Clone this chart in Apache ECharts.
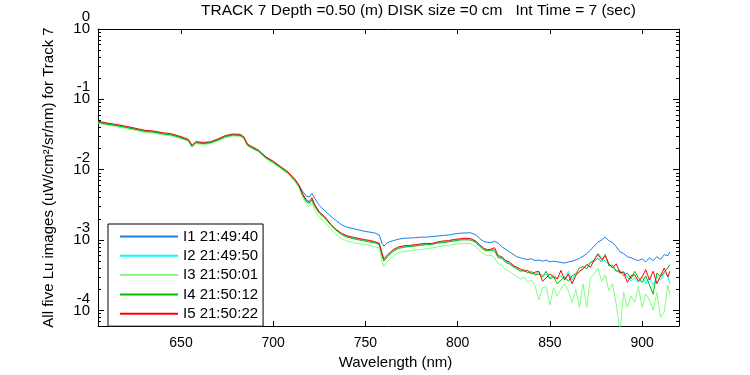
<!DOCTYPE html>
<html>
<head>
<meta charset="utf-8">
<script src="https://cdn.jsdelivr.net/npm/echarts@6/dist/echarts.min.js"></script>
<style>
  html, body { margin: 0; padding: 0; background: #fff; }
  #main { width: 750px; height: 375px; }
</style>
</head>
<body>
<div id="main"></div>
<script>
// wavelengths (nm)
var wavelength = [
  605, 610, 615, 620, 625, 630, 635, 640, 645, 650, 654, 656, 658, 662, 666, 670, 674, 678, 682, 684, 686, 688, 692, 696, 700, 704, 708, 712,
  714, 716, 718, 719.5, 721, 722.5, 725, 728, 731, 734, 737, 740, 743, 746, 749, 752, 755, 757.5, 759, 760, 762, 765, 768, 771, 774, 777,
  780, 783, 786, 789, 792, 795, 798, 801, 804, 807, 810, 812, 814, 816, 818, 820, 822, 824, 826, 828, 830, 832,
  834, 836, 838, 840, 842, 844, 846, 848, 850, 852, 854, 856, 858, 860, 862, 864, 866, 868, 870, 872, 874, 876, 878, 880,
  882, 884, 886, 888, 890, 892, 894, 896, 898, 900, 902, 904, 906, 908, 910, 912, 914, 915
];

// I1 21:49:40
var lu1 = [
  0.0476, 0.0447, 0.0428, 0.0404, 0.0379, 0.0355, 0.0345, 0.0327, 0.0314, 0.0287, 0.0263, 0.0216, 0.0244, 0.0238, 0.0244, 0.0267, 0.0297, 0.0314, 0.0311, 0.0288, 0.0226, 0.0211, 0.0186, 0.0150, 0.0129, 0.0109, 0.0091, 0.0071,
  0.0060, 0.0049, 0.0042, 0.0041, 0.0046, 0.0039, 0.0031, 0.0026, 0.0022, 0.0019, 0.00165, 0.00152, 0.00146, 0.00140, 0.00134, 0.00130, 0.00126, 0.00118, 0.00090, 0.00082, 0.00092, 0.00098, 0.00103, 0.00106, 0.00107, 0.00108,
  0.00110, 0.00110, 0.00112, 0.00114, 0.00116, 0.00118, 0.00122, 0.00125, 0.00126, 0.00127, 0.00118, 0.00105, 0.00096, 0.00093, 0.00092, 0.00096, 0.00090, 0.00080, 0.00074, 0.00068, 0.00063, 0.00058,
  0.00056, 0.00054, 0.00053, 0.00054, 0.00051, 0.00052, 0.00050, 0.00052, 0.00049, 0.00050, 0.00049, 0.00048, 0.00047, 0.00049, 0.00050, 0.00052, 0.00055, 0.00059, 0.00064, 0.00072, 0.00082, 0.00093, 0.00100, 0.00110,
  0.00098, 0.00092, 0.00080, 0.00068, 0.00064, 0.00058, 0.00056, 0.00053, 0.00051, 0.00054, 0.00049, 0.00056, 0.00051, 0.00058, 0.00053, 0.00062, 0.00060, 0.00068
];

// I2 21:49:50
var lu2 = [
  0.0481, 0.0451, 0.0432, 0.0407, 0.0383, 0.0358, 0.0348, 0.0330, 0.0317, 0.0290, 0.0265, 0.0218, 0.0246, 0.0240, 0.0245, 0.0269, 0.0299, 0.0316, 0.0312, 0.0290, 0.0228, 0.0212, 0.0187, 0.0150, 0.0130, 0.0109, 0.0092, 0.0071,
  0.0059, 0.0044, 0.0036, 0.0034, 0.0039, 0.0031, 0.0025, 0.00210, 0.00170, 0.00142, 0.00123, 0.00113, 0.00108, 0.00104, 0.00100, 0.00097, 0.00093, 0.00088, 0.00063, 0.00052, 0.00060, 0.00071, 0.00078, 0.00081, 0.00082, 0.00084,
  0.00086, 0.00088, 0.00088, 0.00092, 0.00094, 0.00096, 0.00099, 0.00102, 0.00104, 0.00103, 0.00094, 0.00083, 0.00075, 0.00072, 0.00073, 0.00074, 0.00058, 0.00056, 0.00050, 0.00047, 0.00043, 0.00040,
  0.00037, 0.00039, 0.00035, 0.00036, 0.00033, 0.00035, 0.00031, 0.00033, 0.00029, 0.00032, 0.00028, 0.00031, 0.00028, 0.00036, 0.00027, 0.00033, 0.00035, 0.00039, 0.00044, 0.00048, 0.00052, 0.00065, 0.00056, 0.00050,
  0.00046, 0.00040, 0.00037, 0.00034, 0.00036, 0.00030, 0.00026, 0.00029, 0.00025, 0.00030, 0.00024, 0.00029, 0.00023, 0.00030, 0.00027, 0.00034, 0.00031, 0.00024
];

// I3 21:50:01
var lu3 = [
  0.0458, 0.0430, 0.0411, 0.0388, 0.0364, 0.0341, 0.0331, 0.0314, 0.0301, 0.0276, 0.0252, 0.0208, 0.0234, 0.0228, 0.0234, 0.0256, 0.0285, 0.0300, 0.0297, 0.0276, 0.0218, 0.0202, 0.0179, 0.0143, 0.0123, 0.0103, 0.0086, 0.0066,
  0.0055, 0.0040, 0.0032, 0.0030, 0.0034, 0.0027, 0.0021, 0.00178, 0.00146, 0.00121, 0.00105, 0.00097, 0.00092, 0.00089, 0.00086, 0.00084, 0.00081, 0.00077, 0.00050, 0.00042, 0.00050, 0.00060, 0.00066, 0.00069, 0.00070, 0.00072,
  0.00073, 0.00075, 0.00077, 0.00080, 0.00082, 0.00084, 0.00086, 0.00088, 0.00090, 0.00089, 0.00080, 0.00070, 0.00064, 0.00060, 0.00061, 0.00056, 0.00046, 0.00044, 0.00038, 0.00036, 0.00033, 0.00030,
  0.00028, 0.00030, 0.00025, 0.00027, 0.00022, 0.00014, 0.00021, 0.00022, 0.00012, 0.00021, 0.00016, 0.00020, 0.00024, 0.00019, 0.00013, 0.00020, 0.00011, 0.00024, 0.00011, 0.00029, 0.00033, 0.00040, 0.00026, 0.00032,
  0.00019, 0.00024, 0.00012, 0.00005, 0.00018, 0.00011, 0.00016, 0.00013, 0.00022, 0.00011, 0.00017, 0.00014, 0.00010, 0.00018, 0.00008, 0.000095, 0.00023, 0.00017
];

// I4 21:50:12
var lu4 = [
  0.0472, 0.0443, 0.0424, 0.0400, 0.0376, 0.0352, 0.0342, 0.0324, 0.0311, 0.0284, 0.0260, 0.0214, 0.0242, 0.0235, 0.0241, 0.0264, 0.0294, 0.0310, 0.0307, 0.0285, 0.0224, 0.0208, 0.0184, 0.0148, 0.0127, 0.0107, 0.0090, 0.0069,
  0.0058, 0.0043, 0.0035, 0.0033, 0.0037, 0.0030, 0.0024, 0.00205, 0.00165, 0.00138, 0.00120, 0.00110, 0.00105, 0.00101, 0.00098, 0.00094, 0.00091, 0.00086, 0.00060, 0.00050, 0.00058, 0.00069, 0.00076, 0.00079, 0.00081, 0.00082,
  0.00084, 0.00086, 0.00087, 0.00090, 0.00092, 0.00094, 0.00097, 0.00100, 0.00101, 0.00100, 0.00092, 0.00081, 0.00073, 0.00070, 0.00072, 0.00070, 0.00056, 0.00055, 0.00048, 0.00046, 0.00042, 0.00039,
  0.00036, 0.00037, 0.00034, 0.00035, 0.00032, 0.00033, 0.00030, 0.00036, 0.00028, 0.00030, 0.00024, 0.00027, 0.00030, 0.00026, 0.00031, 0.00033, 0.00040, 0.00042, 0.00039, 0.00048, 0.00050, 0.00055, 0.00049, 0.00062,
  0.00043, 0.00044, 0.00036, 0.00037, 0.00031, 0.00034, 0.00028, 0.00036, 0.00029, 0.00025, 0.00031, 0.00023, 0.00017, 0.00034, 0.00030, 0.00035, 0.00040, 0.00045
];

// I5 21:50:22
var lu5 = [
  0.0490, 0.0460, 0.0440, 0.0415, 0.0390, 0.0365, 0.0355, 0.0336, 0.0323, 0.0295, 0.0270, 0.0222, 0.0251, 0.0244, 0.0250, 0.0274, 0.0305, 0.0322, 0.0318, 0.0295, 0.0232, 0.0216, 0.0190, 0.0152, 0.0132, 0.0111, 0.0093, 0.0072,
  0.0060, 0.0045, 0.0037, 0.0035, 0.0040, 0.0032, 0.0025, 0.00214, 0.00170, 0.00142, 0.00125, 0.00115, 0.00110, 0.00106, 0.00102, 0.00099, 0.00095, 0.00090, 0.00065, 0.00054, 0.00062, 0.00073, 0.00080, 0.00083, 0.00084, 0.00086,
  0.00088, 0.00090, 0.00089, 0.00094, 0.00097, 0.00098, 0.00102, 0.00104, 0.00106, 0.00105, 0.00096, 0.00085, 0.00077, 0.00073, 0.00074, 0.00078, 0.00060, 0.00058, 0.00051, 0.00049, 0.00044, 0.00041,
  0.00039, 0.00036, 0.00037, 0.00033, 0.00035, 0.00036, 0.00026, 0.00029, 0.00033, 0.00030, 0.00028, 0.00037, 0.00027, 0.00033, 0.00024, 0.00031, 0.00036, 0.00039, 0.00045, 0.00041, 0.00052, 0.00063, 0.00053, 0.00060,
  0.00046, 0.00040, 0.00046, 0.00034, 0.00035, 0.00025, 0.00031, 0.00032, 0.00026, 0.00030, 0.00038, 0.00027, 0.00036, 0.00024, 0.00031, 0.00040, 0.00030, 0.00036
];

var seriesNames = ['I1 21:49:40', 'I2 21:49:50', 'I3 21:50:01', 'I4 21:50:12', 'I5 21:50:22'];
var seriesColors = ['#1a80ee', '#00ffff', '#80ff80', '#00c000', '#ff0000'];
var xTicks = [650, 700, 750, 800, 850, 900];
var xMin = 605, xMax = 920;
var yMin = 6e-5, yMax = 1;

var FONT = "'Liberation Sans', Arial, sans-serif";
var allLu = [lu1, lu2, lu3, lu4, lu5];

// log minor ticks (2..9 per decade), expressed in log10 space
var minorTicks = [];
for (var d = -5; d < 0; d++) {
  for (var k = 2; k <= 9; k++) {
    var v = d + Math.log10(k);
    if (v >= Math.log10(yMin) && v <= Math.log10(yMax)) minorTicks.push(v);
  }
}

var series = [];
for (var s = 0; s < allLu.length; s++) {
  var pts = [];
  for (var i = 0; i < wavelength.length; i++) pts.push([wavelength[i], allLu[s][i]]);
  series.push({
    name: seriesNames[s],
    type: 'line',
    data: pts,
    symbol: 'none',
    animation: false,
    lineStyle: { width: 1, color: seriesColors[s] },
    itemStyle: { color: seriesColors[s] }
  });
}

function minorAxis(pos) {
  return {
    type: 'value', position: pos, min: Math.log10(yMin), max: Math.log10(yMax),
    axisLine: { show: false },
    axisLabel: { show: false },
    splitLine: { show: false },
    axisTick: { show: true, inside: true, length: 3, customValues: minorTicks, lineStyle: { color: '#000' } }
  };
}

function majorAxis(pos, labels) {
  return {
    type: 'log', position: pos, min: yMin, max: yMax, logBase: 10,
    axisLine: { show: true, lineStyle: { color: '#000', width: 1 } },
    axisTick: { show: true, inside: true, length: 6, lineStyle: { color: '#000' } },
    splitLine: { show: false },
    axisLabel: labels ? {
      show: true, margin: 8, showMinLabel: false, align: 'right',
      fontFamily: FONT, color: '#000', padding: [0, 0, 9, 0],
      formatter: function (val) {
        var e = Math.round(Math.log10(val));
        return '{e|' + e + '}\n{b|10}';
      },
      rich: {
        e: { fontSize: 15, lineHeight: 9, fontFamily: FONT, color: '#000', align: 'right' },
        b: { fontSize: 15, lineHeight: 15, fontFamily: FONT, color: '#000', align: 'right' }
      }
    } : { show: false },
    name: labels ? 'All five Lu images (uW/cm\u00b2/sr/nm) for Track 7' : '',
    nameLocation: 'middle',
    nameGap: 42,
    nameTextStyle: { fontSize: 15, fontFamily: FONT, color: '#000' }
  };
}

var chart = echarts.init(document.getElementById('main'));
chart.setOption({
  animation: false,
  backgroundColor: '#fff',
  title: {
    text: 'TRACK 7 Depth =0.50 (m) DISK size =0 cm   Int Time = 7 (sec)',
    left: 201, top: 3, padding: 0,
    textStyle: { fontSize: 15.5, fontWeight: 'normal', fontFamily: FONT, color: '#000' }
  },
  grid: { left: 98, right: 71, top: 29, bottom: 44 },
  legend: {
    orient: 'vertical',
    left: 108, top: 224,
    padding: [5, 5, 5, 11],
    itemWidth: 58, itemHeight: 14, itemGap: 4.3,
    backgroundColor: '#fff',
    borderColor: '#000', borderWidth: 1,
    itemStyle: { opacity: 0 },
    textStyle: { fontSize: 15, fontFamily: FONT, color: '#000' },
    data: seriesNames
  },
  xAxis: [{
    type: 'value', position: 'bottom', min: xMin, max: xMax,
    axisLine: { show: true, onZero: false, lineStyle: { color: '#000', width: 1 } },
    axisTick: { show: true, inside: true, length: 5, customValues: xTicks, lineStyle: { color: '#000' } },
    axisLabel: { show: true, customValues: xTicks, margin: 10, fontSize: 14, fontFamily: FONT, color: '#000' },
    splitLine: { show: false },
    name: 'Wavelength (nm)', nameLocation: 'middle', nameGap: 29,
    nameTextStyle: { fontSize: 15, fontFamily: FONT, color: '#000', padding: [0, 0, 0, 14] }
  }, {
    type: 'value', position: 'top', min: xMin, max: xMax,
    axisLine: { show: true, onZero: false, lineStyle: { color: '#000', width: 1 } },
    axisTick: { show: true, inside: true, length: 5, customValues: xTicks, lineStyle: { color: '#000' } },
    axisLabel: { show: false },
    splitLine: { show: false }
  }],
  yAxis: [majorAxis('left', true), majorAxis('right', false), minorAxis('left'), minorAxis('right')],
  series: series
});
</script>
</body>
</html>
